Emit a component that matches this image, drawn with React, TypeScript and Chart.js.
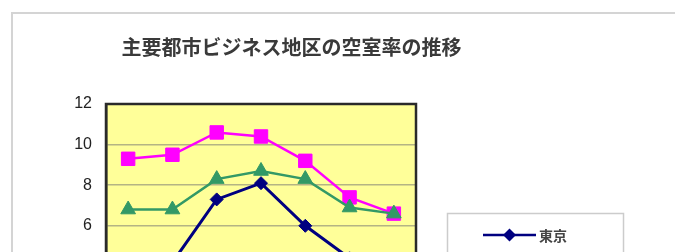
import React, { useEffect, useRef } from "react";
import { Chart, registerables } from "chart.js";

Chart.register(...registerables);

const TITLE = "主要都市ビジネス地区の空室率の推移";
const CATEGORIES = ["2000", "2001", "2002", "2003", "2004", "2005", "2006"];
const SERIES_NAMES = ["東京", "大阪", "名古屋"];
const TOKYO = [4.3, 4.2, 7.3, 8.1, 6.0, 4.4, 3.0];
const OSAKA = [9.3, 9.5, 10.6, 10.4, 9.2, 7.4, 6.6];
const NAGOYA = [6.8, 6.8, 8.3, 8.7, 8.3, 6.9, 6.6];
const Y_MIN = 0;
const Y_MAX = 12;
const Y_STEP = 2;

const COLORS = ["#000080", "#ff00ff", "#339966"];
const STYLES = ["rectRot", "rect", "triangle"];
const RADII = [6.5, 9.5, 8.5];

const W = 675;
const H = 420;

function drawMarker(ctx: CanvasRenderingContext2D, style: string, x: number, y: number, r: number) {
  ctx.beginPath();
  if (style === "rectRot") {
    ctx.moveTo(x, y - r);
    ctx.lineTo(x + r, y);
    ctx.lineTo(x, y + r);
    ctx.lineTo(x - r, y);
  } else if (style === "rect") {
    const s = r * Math.SQRT1_2;
    ctx.rect(x - s, y - s, 2 * s, 2 * s);
  } else {
    const a = (2 * Math.PI) / 3;
    ctx.moveTo(x, y - r);
    ctx.lineTo(x + Math.sin(a) * r, y - Math.cos(a) * r);
    ctx.lineTo(x + Math.sin(2 * a) * r, y - Math.cos(2 * a) * r);
  }
  ctx.closePath();
  ctx.fill();
}

const decorPlugin = {
  id: "decor",
  afterDatasetsDraw(chart: any) {
    const { ctx, chartArea } = chart;
    ctx.save();
    ctx.strokeStyle = "#2a2a2a";
    ctx.lineWidth = 2.5;
    ctx.strokeRect(chartArea.left, chartArea.top, chartArea.right - chartArea.left, chartArea.bottom - chartArea.top);
    ctx.restore();
  },
  afterDraw(chart: any) {
    const { ctx } = chart;
    ctx.save();
    // title
    ctx.fillStyle = "#3a3a3a";
    ctx.font = 'bold 20px "Noto Sans CJK JP"';
    ctx.textAlign = "center";
    ctx.textBaseline = "middle";
    ctx.fillText(TITLE, 291.5, 47);
    // legend
    const bx = 447.5, by = 213.5, bw = 176, bh = 96;
    ctx.strokeStyle = "#cccccc";
    ctx.lineWidth = 1.5;
    ctx.strokeRect(bx, by, bw, bh);
    ctx.font = 'bold 14px "Noto Sans CJK JP"';
    ctx.textAlign = "left";
    chart.data.datasets.forEach((ds: any, i: number) => {
      const y = 235 + i * 26;
      ctx.strokeStyle = ds.borderColor;
      ctx.fillStyle = ds.borderColor;
      ctx.lineWidth = 2.5;
      ctx.beginPath();
      ctx.moveTo(483, y);
      ctx.lineTo(536, y);
      ctx.stroke();
      const r = Math.min(ds.pointRadius, 6.5);
      drawMarker(ctx, ds.pointStyle, 509.5, y, r);
      ctx.fillStyle = "#444444";
      ctx.fillText(ds.label, 539, y + 1);
    });
    ctx.restore();
  },
};

export default function App() {
  const ref = useRef<HTMLCanvasElement>(null);
  useEffect(() => {
    if (!ref.current) return;
    const series = [TOKYO, OSAKA, NAGOYA];
    const order = [0, 2, 1];
    const chart = new Chart(ref.current, {
      type: "line",
      data: {
        labels: CATEGORIES,
        datasets: series.map((d, i) => ({
          label: SERIES_NAMES[i],
          data: d,
          borderColor: COLORS[i],
          backgroundColor: COLORS[i],
          pointBackgroundColor: COLORS[i],
          pointBorderColor: COLORS[i],
          pointStyle: STYLES[i] as any,
          pointRadius: RADII[i],
          pointBorderWidth: 1,
          borderWidth: i === 0 ? 3 : 2.5,
          tension: 0,
          fill: false,
          order: order[i],
        })),
      },
      options: {
        responsive: false,
        animation: false,
        layout: { padding: { left: 0, top: 104, right: W - 416, bottom: H - 347.6 - 30 } },
        plugins: {
          legend: { display: false },
          title: { display: false },
          tooltip: { enabled: false },
        },
        scales: {
          x: {
            type: "category",
            offset: true,
            grid: { display: false, drawTicks: false },
            border: { display: true, color: "#2a2a2a", width: 2.5 },
            ticks: { color: "#222222", font: { family: "Liberation Sans", size: 16 }, padding: 8 },
            afterFit: (s: any) => { s.height = 30; },
          },
          y: {
            min: Y_MIN,
            max: Y_MAX,
            grid: { color: "#b4b484", lineWidth: 1.5, drawTicks: false },
            border: { display: true, color: "#2a2a2a", width: 2.5 },
            ticks: {
              stepSize: Y_STEP,
              padding: 14,
              color: "#222222",
              font: { family: "Liberation Sans", size: 16 },
            },
            afterFit: (s: any) => { s.width = 106; },
          },
        },
      },
      plugins: [
        {
          id: "plotBg",
          beforeDraw(chart: any) {
            const { ctx, chartArea } = chart;
            ctx.save();
            ctx.fillStyle = "#ffff99";
            ctx.fillRect(chartArea.left, chartArea.top, chartArea.right - chartArea.left, chartArea.bottom - chartArea.top);
            ctx.restore();
          },
        },
        decorPlugin,
      ],
    });
    return () => chart.destroy();
  }, []);

  return (
    <div style={{ position: "absolute", left: 0, top: 0, width: W, height: 252, overflow: "hidden", background: "#ffffff" }}>
      <div style={{ position: "absolute", left: 11, top: 12, width: 720, height: 500, border: "2px solid #d4d4d4", boxSizing: "border-box" }} />
      <canvas ref={ref} width={W} height={H} style={{ position: "absolute", left: 0, top: 0, width: W, height: H }} />
    </div>
  );
}
